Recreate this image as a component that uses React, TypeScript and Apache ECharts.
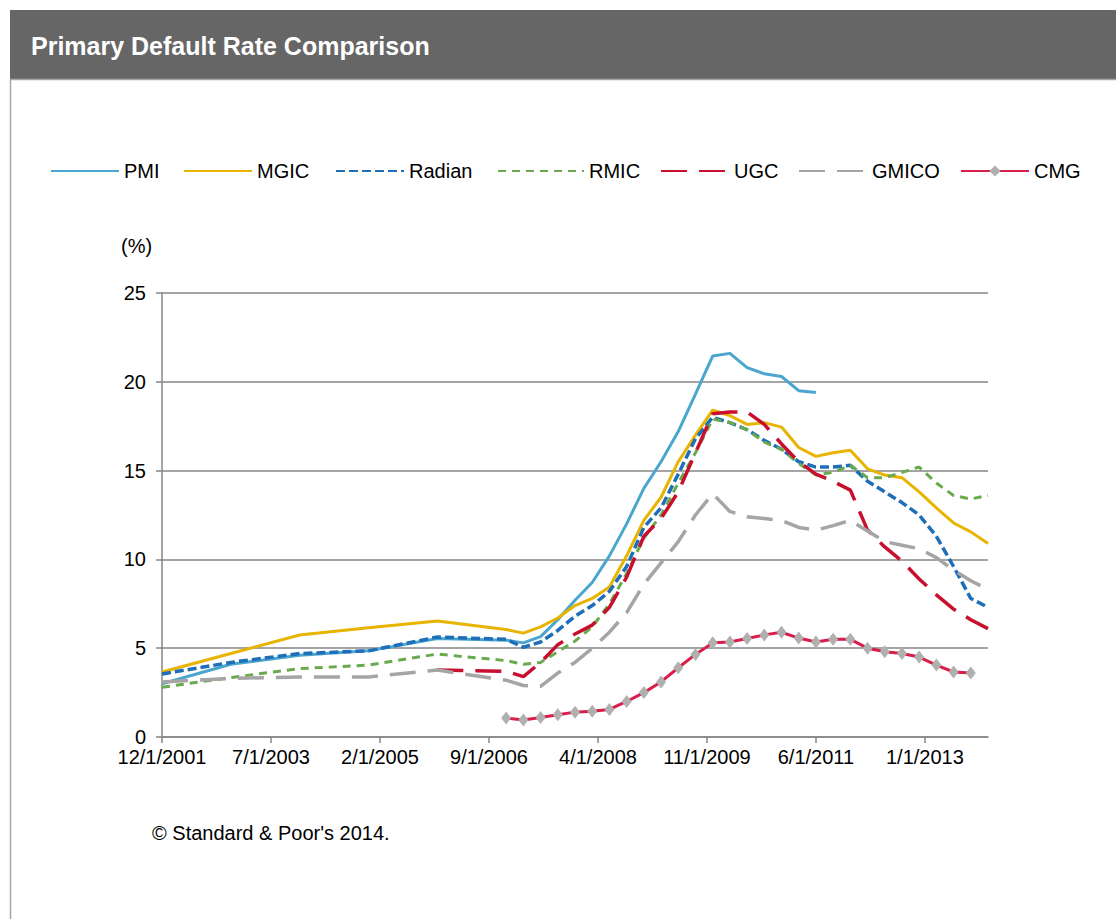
import React, { useEffect, useRef } from "react";
import * as echarts from "echarts";

// Monthly category axis from 12/1/2001 to 12/1/2013
const months: string[] = [];
for (let i = 0; i <= 144; i++) {
  const m = ((11 + i) % 12) + 1;
  const y = 2001 + Math.floor((11 + i) / 12);
  months.push(`${m}/1/${y}`);
}

const annualDates = ["12/1/2001", "12/1/2002", "12/1/2003", "12/1/2004", "12/1/2005"];
const quarterDates = [
  "12/1/2006", "3/1/2007", "6/1/2007", "9/1/2007", "12/1/2007", "3/1/2008", "6/1/2008", "9/1/2008",
  "12/1/2008", "3/1/2009", "6/1/2009", "9/1/2009", "12/1/2009", "3/1/2010", "6/1/2010", "9/1/2010",
  "12/1/2010", "3/1/2011", "6/1/2011", "9/1/2011", "12/1/2011", "3/1/2012", "6/1/2012", "9/1/2012",
  "12/1/2012", "3/1/2013", "6/1/2013", "9/1/2013", "12/1/2013",
];

const pmiValues = [3.0, 4.1, 4.6, 4.85, 5.55,
  5.45, 5.3, 5.65, 6.6, 7.7, 8.7, 10.2, 12.0, 14.0, 15.5, 17.2, 19.3, 21.45, 21.6, 20.8, 20.45, 20.3, 19.5, 19.4];
const mgicValues = [3.66, 4.7, 5.74, 6.15, 6.53,
  6.05, 5.85, 6.2, 6.7, 7.4, 7.8, 8.45, 10.2, 12.2, 13.5, 15.5, 17.0, 18.4, 18.1, 17.6, 17.7, 17.45, 16.3, 15.8,
  16.0, 16.15, 15.1, 14.75, 14.6, 13.8, 12.9, 12.05, 11.55, 10.9];
const radianValues = [3.55, 4.2, 4.7, 4.85, 5.63,
  5.5, 5.05, 5.35, 6.0, 6.8, 7.4, 8.2, 9.6, 11.8, 12.9, 14.8, 16.8, 18.0, 17.7, 17.3, 16.7, 16.2, 15.5, 15.2,
  15.2, 15.3, 14.4, 13.8, 13.2, 12.5, 11.3, 9.6, 7.8, 7.3];
const rmicValues = [2.8, 3.35, 3.85, 4.05, 4.67,
  4.3, 4.1, 4.2, 4.8, 5.4, 6.2, 7.5, 9.2, 11.2, 12.5, 14.3, 16.0, 17.9, 17.7, 17.3, 16.6, 16.2, 15.4, 14.75,
  14.9, 15.3, 14.6, 14.6, 14.9, 15.2, 14.3, 13.6, 13.4, 13.6];
const ugcValues = [3.77,
  3.7, 3.4, 4.2, 5.2, 5.8, 6.3, 7.3, 9.0, 11.3, 12.3, 13.8, 16.0, 18.2, 18.3, 18.3, 17.6, 16.5, 15.5, 14.8,
  14.4, 13.9, 11.65, 10.7, 9.9, 8.9, 8.0, 7.2, 6.6, 6.1];
const gmicoValues = [3.1, 3.3, 3.38, 3.38, 3.77,
  3.2, 2.9, 2.85, 3.6, 4.2, 5.0, 5.9, 7.0, 8.6, 9.8, 11.0, 12.5, 13.7, 12.7, 12.4, 12.3, 12.2, 11.8, 11.65,
  11.9, 12.2, 11.6, 11.0, 10.8, 10.6, 10.1, 9.4, 8.8, 8.3];
const cmgValues = [1.07, 0.96, 1.1, 1.25, 1.4, 1.45, 1.55, 2.0, 2.5, 3.1, 3.9, 4.65, 5.3, 5.35, 5.55, 5.75, 5.9,
  5.57, 5.35, 5.5, 5.5, 5.0, 4.8, 4.7, 4.5, 4.05, 3.66, 3.6];

const pmiDates = annualDates.concat(quarterDates.slice(0, 19));
const fullDates = annualDates.concat(quarterDates);
const ugcDates = ["12/1/2005"].concat(quarterDates);
const cmgDates = quarterDates.slice(0, 28);

const pair = (dates: string[], vals: number[]) => dates.map((d, i) => [d, vals[i]]);

const FONT = "Liberation Sans, Arial, sans-serif";

export default function App() {
  const ref = useRef<HTMLDivElement>(null);
  useEffect(() => {
    if (!ref.current) return;
    const chart = echarts.init(ref.current, undefined, { renderer: "svg" });

    const lineSeries = (name: string, data: any[], color: string, type: any, width = 3) => ({
      name,
      type: "line",
      data,
      showSymbol: false,
      symbol: "none",
      lineStyle: { color, width, type, cap: "butt" },
      itemStyle: { color },
    });

    const legendSpec: [string, number, number][] = [
      ["PMI", 50, 68],
      ["MGIC", 183, 68],
      ["Radian", 335, 68],
      ["RMIC", 497, 86],
      ["UGC", 660, 68],
      ["GMICO", 798, 68],
      ["CMG", 960, 68],
    ];

    chart.setOption({
      animation: false,
      backgroundColor: "#ffffff",
      textStyle: { fontFamily: FONT },
      legend: legendSpec.map(([name, left, w]) => ({
        data: [name],
        left,
        top: 161,
        padding: 0,
        itemWidth: w,
        itemHeight: 14,
        itemGap: 0,
        itemStyle: name === "CMG" ? { color: "#B0B0B0" } : { opacity: 0 },
        textStyle: { fontSize: 20, color: "#000", fontFamily: FONT },
        selectedMode: false,
      })),
      grid: { left: 162, right: 128, top: 293, bottom: 182, containLabel: false },
      xAxis: {
        type: "category",
        data: months,
        boundaryGap: false,
        axisLine: { lineStyle: { color: "#868686", width: 1.5 } },
        axisTick: { interval: 18, length: 6, lineStyle: { color: "#868686", width: 1.5 } },
        axisLabel: { interval: 18, color: "#000", fontSize: 20, margin: 10, fontFamily: FONT },
        splitLine: { show: false },
      },
      yAxis: {
        type: "value",
        min: 0,
        max: 25,
        interval: 5,
        axisLine: { show: true, lineStyle: { color: "#868686", width: 1.5 } },
        axisTick: { show: true, length: 6, lineStyle: { color: "#868686", width: 1.5 } },
        axisLabel: { color: "#000", fontSize: 20, margin: 16, fontFamily: FONT },
        splitLine: { lineStyle: { color: "#868686", width: 1.5 } },
      },
      series: [
        lineSeries("PMI", pair(pmiDates, pmiValues), "#4BA6CF", "solid", 3),
        lineSeries("MGIC", pair(fullDates, mgicValues), "#E8B400", "solid", 3),
        lineSeries("Radian", pair(fullDates, radianValues), "#1F6EB8", [9, 4], 3.5),
        lineSeries("RMIC", pair(fullDates, rmicValues), "#6AAA4E", [8, 6], 3),
        lineSeries("UGC", pair(ugcDates, ugcValues), "#C8102E", [26, 12], 3.5),
        lineSeries("GMICO", pair(fullDates, gmicoValues), "#A5A5A5", [26, 12], 3.5),
        {
          name: "CMG",
          type: "line",
          data: pair(cmgDates, cmgValues),
          symbol: "diamond",
          symbolSize: [10, 13],
          showSymbol: true,
          showAllSymbol: true,
          lineStyle: { color: "#D81E4A", width: 3 },
          itemStyle: { color: "#B0B0B0", borderWidth: 0 },
        },
      ],
      graphic: [
        { type: "rect", shape: { x: 10, y: 10, width: 1110, height: 69 }, style: { fill: "#666666" }, silent: true },
        {
          type: "rect",
          shape: { x: 10.5, y: 79.5, width: 1120, height: 860 },
          style: { fill: "none", stroke: "#A6A6A6", lineWidth: 1.5 },
          silent: true,
        },
        {
          type: "text",
          x: 31,
          y: 46,
          style: {
            text: "Primary Default Rate Comparison",
            fill: "#ffffff",
            font: `bold 25px ${FONT}`,
            verticalAlign: "middle",
          },
        },
        {
          type: "text",
          x: 121,
          y: 246,
          style: { text: "(%)", fill: "#000", font: `20px ${FONT}`, verticalAlign: "middle" },
        },
        {
          type: "text",
          x: 152,
          y: 833,
          style: { text: "© Standard & Poor's 2014.", fill: "#000", font: `20px ${FONT}`, verticalAlign: "middle" },
        },
      ],
    });
    return () => chart.dispose();
  }, []);
  return (
    <div
      ref={ref}
      style={{ position: "fixed", left: 0, top: 0, width: 1116, height: 919 }}
    />
  );
}
